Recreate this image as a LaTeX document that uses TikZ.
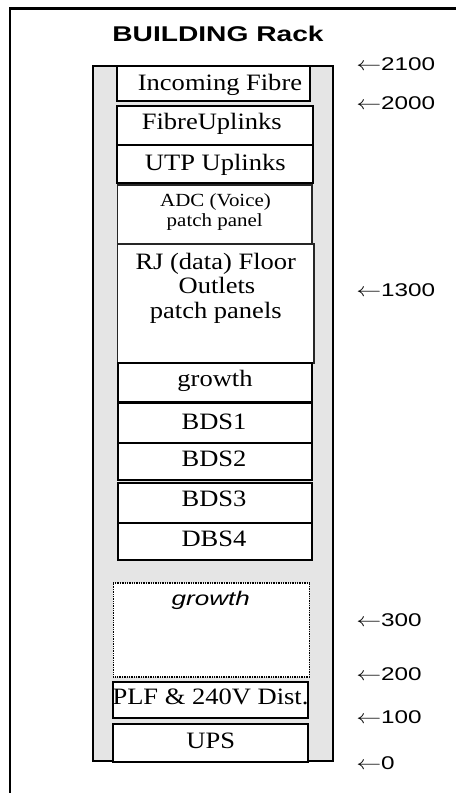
\documentclass[tikz,border=0pt]{standalone}
\usepackage{fontspec}
\usepackage{graphicx}
\usetikzlibrary{fit}
\newfontfamily\rserif[FakeStretch=1.13]{Liberation Serif}
\newfontfamily\rsans[FakeStretch=1.32]{Liberation Sans}
\definecolor{rackgray}{RGB}{229,229,229}
\begin{document}
\begin{tikzpicture}[x=0.75pt,y=-0.75pt,
  rackframe/.style={draw=black, line width=1.5pt, fill=rackgray, inner sep=0pt},
  unitbox/.style={draw=black, line width=1.5pt, fill=white, inner sep=0pt},
  thinbox/.style={draw=black!85, line width=0.8pt, fill=white, inner sep=0pt},
  dotbox/.style={draw=black, line width=1.2pt, dash pattern=on 0.7pt off 0.6pt, fill=white, inner sep=0pt},
  rtext/.style={font=\rserif\fontsize{17.6}{20}\selectfont, inner sep=0pt, anchor=base},
  stext/.style={font=\rserif\fontsize{13.9}{16}\selectfont, inner sep=0pt, anchor=base},
  itext/.style={font=\rsans\itshape\fontsize{14.8}{17}\selectfont, inner sep=0pt, anchor=base},
  lbl/.style={font=\rsans\fontsize{13.8}{16}\selectfont, inner sep=0pt, anchor=base west},
  ttl/.style={font=\rsans\bfseries\fontsize{16}{18}\selectfont, inner sep=0pt, anchor=base},
]
\useasboundingbox (0,0) rectangle (456,793);
\clip (0,0) rectangle (456,793);
% outer frame (cut off at right and bottom)
\coordinate (fbl) at (10,810);
\coordinate (ftl) at (10,8.5);
\coordinate (ftr) at (470,8.5);
\draw[line width=2.2pt] (fbl) -- (ftl) -- (ftr);
% title
\node[ttl] (title) at (218,41.7) {BUILDING Rack};
% rack
\node[rackframe, fit={(93.3,66) (333,761)}] (rack) {};
% units
\node[unitbox, fit={(117,66) (310,101)}] (inc) {};
\node[unitbox, fit={(117.3,106) (312.5,145)}] (fup) {};
\node[unitbox, fit={(117.3,145) (312.5,182.5)}] (utp) {};
\node[thinbox, fit={(117.7,185) (312,244)}] (adc) {};
\node[thinbox, fit={(117.7,244) (314,363)}] (rj) {};
\node[unitbox, fit={(117.7,363) (312,401.5)}] (gro) {};
\node[unitbox, fit={(117.7,403) (312,442.5)}] (bds1) {};
\node[unitbox, fit={(117.7,442.5) (312,480)}] (bds2) {};
\node[unitbox, fit={(117.7,483) (312,522.5)}] (bds3) {};
\node[unitbox, fit={(117.7,522.5) (312,560)}] (dbs4) {};
\node[dotbox, fit={(113.3,582.7) (309.3,676.7)}] (grow2) {};
\node[unitbox, fit={(112.7,681.7) (308,718.3)}] (plf) {};
\node[unitbox, fit={(113,724.3) (308,761.5)}] (ups) {};
% texts
\node[rtext] (tinc) at (220,90.7) {Incoming Fibre};
\node[rtext] (tfup) at (211.8,129.3) {FibreUplinks};
\node[rtext] (tutp) at (215.3,170) {UTP Uplinks};
\node[stext] (tadc1) at (215.5,206.7) {ADC (Voice)};
\node[stext] (tadc2) at (214.7,226.7) {patch panel};
\node[rtext] (trj1) at (215.8,269.3) {RJ (data) Floor};
\node[rtext] (trj2) at (217,293.3) {Outlets};
\node[rtext] (trj3) at (215.8,318) {patch panels};
\node[rtext] (tgro) at (215,386.7) {growth};
\node[rtext] (tbds1) at (214,429.3) {BDS1};
\node[rtext] (tbds2) at (214,466.7) {BDS2};
\node[rtext] (tbds3) at (214,506.7) {BDS3};
\node[rtext] (tdbs4) at (214,546.7) {DBS4};
\node[itext] (tgrow2) at (210.8,605.7) {growth};
\node[rtext] (tplf) at (210.5,704) {PLF \& 240V Dist.};
\node[rtext] (tups) at (210.7,748.3) {UPS};
% height labels
\newcommand{\larr}{\scalebox{1.3}[1]{$\leftarrow$}}
\node[lbl] (l2100) at (356,70.7) {\larr2100};
\node[lbl] (l2000) at (356,109) {\larr2000};
\node[lbl] (l1300) at (356,296) {\larr1300};
\node[lbl] (l300) at (356,626) {\larr300};
\node[lbl] (l200) at (356,680.7) {\larr200};
\node[lbl] (l100) at (356,723.3) {\larr100};
\node[lbl] (l0) at (356,769.3) {\larr0};
\end{tikzpicture}
\end{document}
